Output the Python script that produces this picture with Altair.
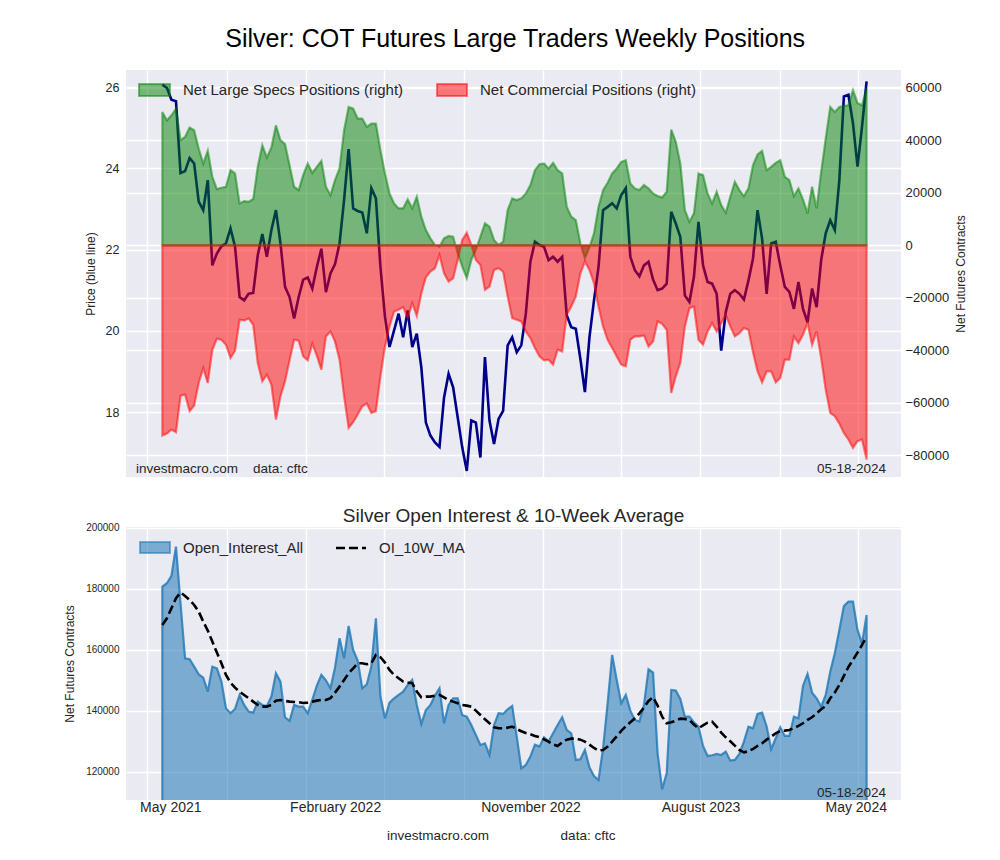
import altair as alt
import pandas as pd

FONT = "Liberation Sans"

dates = pd.date_range("2021-05-25", periods=156, freq="7D")

price = [26.06, 25.98, 25.69, 25.65, 23.88, 23.93, 24.25, 24.12, 23.18, 22.97,
         23.71, 21.61, 21.90, 22.08, 22.15, 22.52, 22.07, 20.83, 20.75, 20.91,
         20.93, 21.86, 22.38, 21.82, 22.48, 22.97, 22.15, 21.08, 20.83, 20.30,
         20.83, 21.26, 21.31, 21.04, 21.57, 22.02, 20.95, 21.41, 21.64, 22.15,
         23.22, 24.47, 23.01, 22.95, 22.91, 22.40, 23.51, 23.26, 21.57, 20.34,
         19.60, 20.01, 20.42, 19.84, 20.50, 19.60, 19.93, 19.10, 17.74, 17.42,
         17.25, 17.14, 18.36, 18.94, 18.61, 17.87, 17.13, 16.55, 17.79, 17.74,
         16.88, 19.35, 17.79, 17.21, 17.83, 18.03, 19.64, 19.84, 19.47, 19.64,
         20.42, 21.70, 22.19, 22.11, 22.07, 21.74, 21.82, 21.70, 21.82, 20.38,
         20.09, 20.05, 19.31, 18.49, 19.84, 20.75, 21.57, 22.97, 23.05, 23.14,
         23.01, 23.34, 23.51, 21.82, 21.49, 21.34, 21.61, 21.70, 21.26, 21.00,
         21.04, 21.16, 22.93, 22.64, 22.31, 20.87, 20.71, 21.33, 22.68, 21.61,
         21.20, 21.16, 20.91, 19.51, 20.46, 20.91, 21.00, 20.91, 20.77, 21.24,
         21.78, 22.97, 22.27, 20.91, 22.15, 22.19, 21.61, 21.08, 20.96, 20.54,
         21.20, 20.54, 20.21, 21.04, 20.58, 21.74, 22.40, 22.72, 22.48, 23.71,
         25.77, 25.81, 25.11, 24.04, 25.03, 26.14]

specs = [50830, 47650, 49550, 52090, 40050, 41320, 44860, 43850, 36880, 31180,
         35990, 26110, 21420, 21920, 22310, 28640, 27370, 15970, 16860, 16600,
         17620, 29910, 38150, 33460, 37260, 45750, 40050, 38530, 30540, 22310,
         21040, 26740, 31180, 27630, 29910, 32190, 22310, 19140, 24840, 29280,
         43850, 52720, 52090, 48290, 48290, 45120, 46390, 46390, 36250, 27370,
         19770, 15970, 14070, 14070, 17490, 14070, 18500, 10900, 5830, 2660,
         130, -510, 2660, 3550, 3300, -3040, -8110, -12550, -5580, -1770,
         3300, 8360, 7100, 2030, 130, 1390, 13430, 17870, 17240, 17870,
         19770, 22940, 28640, 30920, 31180, 29280, 31430, 28640, 27370, 14700,
         10900, 9630, 760, -4940, -760, 4560, 14700, 21040, 23820, 27370,
         29280, 31810, 32440, 23570, 21670, 21040, 22940, 21670, 19770, 18760,
         18250, 20400, 44100, 39420, 31180, 13430, 8990, 12170, 27370, 26740,
         19770, 15970, 20400, 15340, 12420, 18500, 24200, 21040, 18760, 21670,
         30540, 34600, 35990, 28640, 29910, 31430, 32440, 26110, 24840, 18760,
         21670, 17490, 12170, 22310, 14070, 28010, 40680, 52720, 50820, 52720,
         53100, 53350, 59050, 54240, 53350, 59690]

comm = [-72500, -71740, -70220, -71220, -57290, -56900, -63240, -61090, -52470, -46760,
        -52470, -39800, -35610, -35990, -37900, -42960, -40180, -28390, -28640, -27880,
        -30290, -44860, -51840, -49300, -53100, -66410, -57540, -51840, -43850, -35990,
        -36370, -42330, -43850, -37510, -42070, -47400, -34730, -32820, -36620, -43600,
        -57540, -69580, -67420, -64510, -61340, -60330, -63870, -63240, -49930, -38530,
        -30920, -25220, -24590, -23570, -27750, -22050, -26870, -18250, -12170, -10010,
        -8740, -3680, -10650, -13810, -12550, -5580, 2030, 4820, 130, -5580,
        -7480, -16980, -15720, -9380, -8740, -10010, -19520, -27750, -28390, -29020,
        -32820, -35360, -39160, -42330, -43850, -43600, -45500, -39800, -40430, -26490,
        -23320, -19520, -10650, -6210, -9380, -14450, -23320, -30920, -35990, -39160,
        -42330, -45500, -46130, -35990, -34730, -34730, -34350, -38530, -36620, -29020,
        -29910, -32190, -56270, -49930, -44860, -30920, -23950, -23320, -35990, -37900,
        -32820, -29660, -32820, -29660, -26490, -30920, -34730, -33460, -31560, -32190,
        -40810, -48030, -52220, -48030, -48030, -52220, -50570, -43600, -43600, -34730,
        -37260, -34090, -29660, -37900, -32820, -42960, -55000, -63870, -65140, -67930,
        -71480, -74010, -77180, -74650, -74010, -81620]

open_interest = [180760, 181860, 184260, 193880, 175300, 157260, 156930, 154530, 152020, 150920,
                 146330, 154530, 153990, 149610, 140870, 139230, 140650, 145240, 141960, 139780,
                 139450, 143050, 141960, 141630, 144700, 152340, 149610, 137920, 136720, 141960,
                 141410, 141410, 139230, 143600, 148300, 151800, 150050, 147430, 154200, 163820,
                 157260, 167870, 159990, 156500, 147430, 148740, 154530, 170380, 144700, 137590,
                 142730, 144150, 145240, 146330, 148520, 150160, 141960, 135730, 140320, 141960,
                 145020, 147430, 135950, 141960, 144150, 144150, 138680, 138130, 135410, 132120,
                 128840, 129390, 125560, 135400, 139230, 139010, 140540, 141630, 131580, 121200,
                 122290, 125020, 128950, 128300, 131360, 129940, 132670, 135400, 137920, 133760,
                 132670, 123930, 124150, 127210, 121520, 118680, 117370, 127750, 142510, 158360,
                 150160, 142510, 145240, 140100, 137040, 136500, 141960, 153660, 152560, 126110,
                 114310, 119560, 146880, 146660, 143930, 138130, 138130, 136280, 134860, 128520,
                 125240, 125460, 125890, 125560, 126660, 123710, 123930, 125890, 129940, 134860,
                 134310, 139010, 139450, 134860, 127420, 131030, 134640, 131800, 131800, 138130,
                 137590, 148190, 152130, 146000, 144150, 141410, 145240, 152890, 158900, 166550,
                 174420, 175840, 175840, 166550, 162180, 171470]

oi_ma = [168190, 170380, 173660, 176940, 178800, 177700, 176390, 174750, 172560, 169290,
         166340, 162730, 159120, 155620, 151800, 149290, 147640, 146330, 145240, 144150,
         143050, 141960, 141410, 141410, 141960, 143380, 143600, 143270, 143050, 142950,
         142840, 142620, 142730, 143050, 143380, 143600, 143600, 144150, 146000, 147970,
         150160, 152340, 153990, 155620, 155620, 155300, 155620, 158360, 157590, 155840,
         153440, 151800, 150700, 149610, 149290, 149070, 146330, 144480, 144700, 144700,
         145020, 145240, 144480, 143600, 143050, 142510, 141960, 141740, 141410, 140100,
         138680, 137260, 135950, 134640, 134310, 134310, 134530, 134860, 134090, 133330,
         132780, 132340, 131800, 131360, 130700, 129940, 129060, 128520, 129720, 130590,
         130920, 130920, 130590, 129940, 128950, 127860, 126990, 127210, 128300, 129940,
         131690, 133440, 134970, 136280, 137590, 139230, 141090, 143270, 144480, 141740,
         138130, 135950, 136280, 136820, 137480, 137370, 137040, 135510, 134310, 135290,
         136170, 136500, 134860, 132890, 131360, 130050, 128630, 127210, 126440, 126770,
         127530, 128520, 129390, 130590, 131580, 132670, 133440, 133550, 133760, 134420,
         135080, 135950, 137040, 137920, 139230, 140540, 141630, 144150, 146000, 148520,
         151470, 154420, 156720, 159120, 161640, 164370]

grid_months = [(2021, 5), (2021, 9), (2022, 1), (2022, 5), (2022, 9), (2023, 1),
               (2023, 5), (2023, 9), (2024, 1), (2024, 5)]
x_label_dates = ["2021-06-07", "2022-02-16", "2022-12-14", "2023-09-02", "2024-04-28"]
x_labels = ["May 2021", "February 2022", "November 2022", "August 2023", "May 2024"]
price_ticks = [18, 20, 22, 24, 26]
pos_ticks = [-80000, -60000, -40000, -20000, 0, 20000, 40000, 60000]
oi_ticks = [120000, 140000, 160000, 180000, 200000]

df = pd.DataFrame({"date": dates, "price": price, "specs": specs, "comm": comm,
                   "oi": open_interest, "ma": oi_ma})
lab_df = pd.DataFrame({"date": pd.to_datetime(x_label_dates), "label": x_labels})

W = 775
H1 = 407
H2 = 273
TXT = "#262626"

xscale = alt.Scale(domain=[alt.DateTime(year=2021, month=3, date=30),
                           alt.DateTime(year=2024, month=7, date=6)])
grid_vals = [alt.DateTime(year=y, month=m, date=1) for y, m in grid_months]
xaxis = alt.Axis(values=grid_vals, labels=False, ticks=False, domain=False,
                 grid=True, title=None, gridColor="white", gridWidth=1.4)
X = alt.X("date:T", scale=xscale, axis=xaxis)


def yaxis(**kw):
    base = dict(grid=True, gridColor="white", gridWidth=1.4, domain=False, ticks=False,
                labelColor=TXT, titleColor=TXT, labelFont=FONT, titleFont=FONT,
                titleFontWeight="normal")
    base.update(kw)
    return alt.Axis(**base)


def note(text, x, y, size=13.5, align="left", color=TXT):
    return alt.Chart(pd.DataFrame({"t": [text]})).mark_text(
        font=FONT, fontSize=size, align=align, baseline="middle", color=color
    ).encode(x=alt.value(x), y=alt.value(y), text="t:N")


def patch(x1, x2, y1, y2, color, op):
    return alt.Chart(pd.DataFrame({"a": [0]})).mark_rect(
        fill=color, fillOpacity=op, stroke=color, strokeOpacity=op, strokeWidth=2
    ).encode(x=alt.value(x1), x2=alt.value(x2), y=alt.value(y1), y2=alt.value(y2))


# ---------- top panel ----------
price_line = alt.Chart(df).mark_line(color="#00008b", strokeWidth=2.6).encode(
    x=X,
    y=alt.Y("price:Q", scale=alt.Scale(domain=[16.40, 26.42], nice=False, zero=False),
            axis=yaxis(values=price_ticks, title="Price (blue line)", labelFontSize=12.5,
                       titleFontSize=12, labelPadding=7, titlePadding=8)),
)
pos_scale = alt.Scale(domain=[-88300, 66800], nice=False, zero=False)
pos_axis = yaxis(orient="right", values=pos_ticks, format="d", title="Net Futures Contracts",
                 titleAngle=270, labelFontSize=13, titleFontSize=12, labelPadding=4,
                 titlePadding=19)
green_area = alt.Chart(df).mark_area(
    fill="green", fillOpacity=0.5, stroke="green", strokeOpacity=0.5, strokeWidth=2.2
).encode(x=X, y=alt.Y("specs:Q", scale=pos_scale, axis=pos_axis), y2=alt.datum(0))
red_area = alt.Chart(df).mark_area(
    fill="red", fillOpacity=0.5, stroke="red", strokeOpacity=0.5, strokeWidth=2.2
).encode(x=X, y=alt.Y("comm:Q", scale=pos_scale, axis=pos_axis), y2=alt.datum(0))

top_overlay = alt.layer(
    patch(13, 44, 14, 26, "green", 0.5),
    note("Net Large Specs Positions (right)", 57, 20, size=15),
    patch(311, 341, 14, 26, "red", 0.5),
    note("Net Commercial Positions (right)", 354, 20, size=15),
    note("investmacro.com", 10, 399),
    note("data: cftc", 127, 399),
    note("05-18-2024", 760, 399, align="right"),
)

top = alt.layer(
    price_line,
    alt.layer(green_area, red_area),
).resolve_scale(y="independent")
top = alt.layer(top, top_overlay).properties(width=W, height=H1)

# ---------- bottom panel ----------
oi_area = alt.Chart(df).mark_area(
    clip=True, fill="#1f77b4", fillOpacity=0.55, stroke="#1f77b4", strokeOpacity=0.8,
    strokeWidth=2.2
).encode(
    x=X,
    y=alt.Y("oi:Q", scale=alt.Scale(domain=[110800, 200300], nice=False, zero=False),
            axis=yaxis(values=oi_ticks, format="d", title="Net Futures Contracts",
                       labelFontSize=10, titleFontSize=12, labelPadding=7, titlePadding=9)),
    y2=alt.datum(0),
)
ma_line = alt.Chart(df).mark_line(color="black", strokeWidth=2.6, strokeDash=[9, 4]).encode(
    x=X, y="ma:Q"
)
x_text = alt.Chart(lab_df).mark_text(font=FONT, fontSize=14, baseline="middle",
                                     color=TXT).encode(
    x=alt.X("date:T", scale=xscale, axis=xaxis), y=alt.value(H2 + 8), text="label:N"
)
ma_key = alt.Chart(pd.DataFrame({"a": [0]})).mark_rule(
    color="black", strokeWidth=2.6, strokeDash=[9, 4]
).encode(x=alt.value(210), x2=alt.value(240), y=alt.value(21))

bottom = alt.layer(
    oi_area, ma_line, x_text,
    patch(14, 44, 15, 26, "#1f77b4", 0.55),
    note("Open_Interest_All", 57, 21, size=15),
    ma_key,
    note("OI_10W_MA", 253, 21, size=15),
    note("05-18-2024", 760, 266, align="right"),
    note("investmacro.com", 312, 309, align="center"),
    note("data: cftc", 462, 309, align="center"),
).properties(
    width=W, height=H2,
    title=alt.TitleParams("Silver Open Interest & 10-Week Average", font=FONT, fontSize=19,
                          fontWeight="normal", color=TXT, offset=0, dy=3),
)

chart = alt.vconcat(top, bottom, spacing=29).properties(
    title=alt.TitleParams("Silver: COT Futures Large Traders Weekly Positions", font=FONT,
                          fontSize=25, fontWeight="normal", color="black", offset=18,
                          anchor="middle"),
    padding={"left": 55, "top": 19, "right": 10, "bottom": 10},
    background="white",
).configure_view(fill="#eaeaf2", stroke=None)

chart.save("out.html", embed_options={"renderer": "svg", "actions": False})
